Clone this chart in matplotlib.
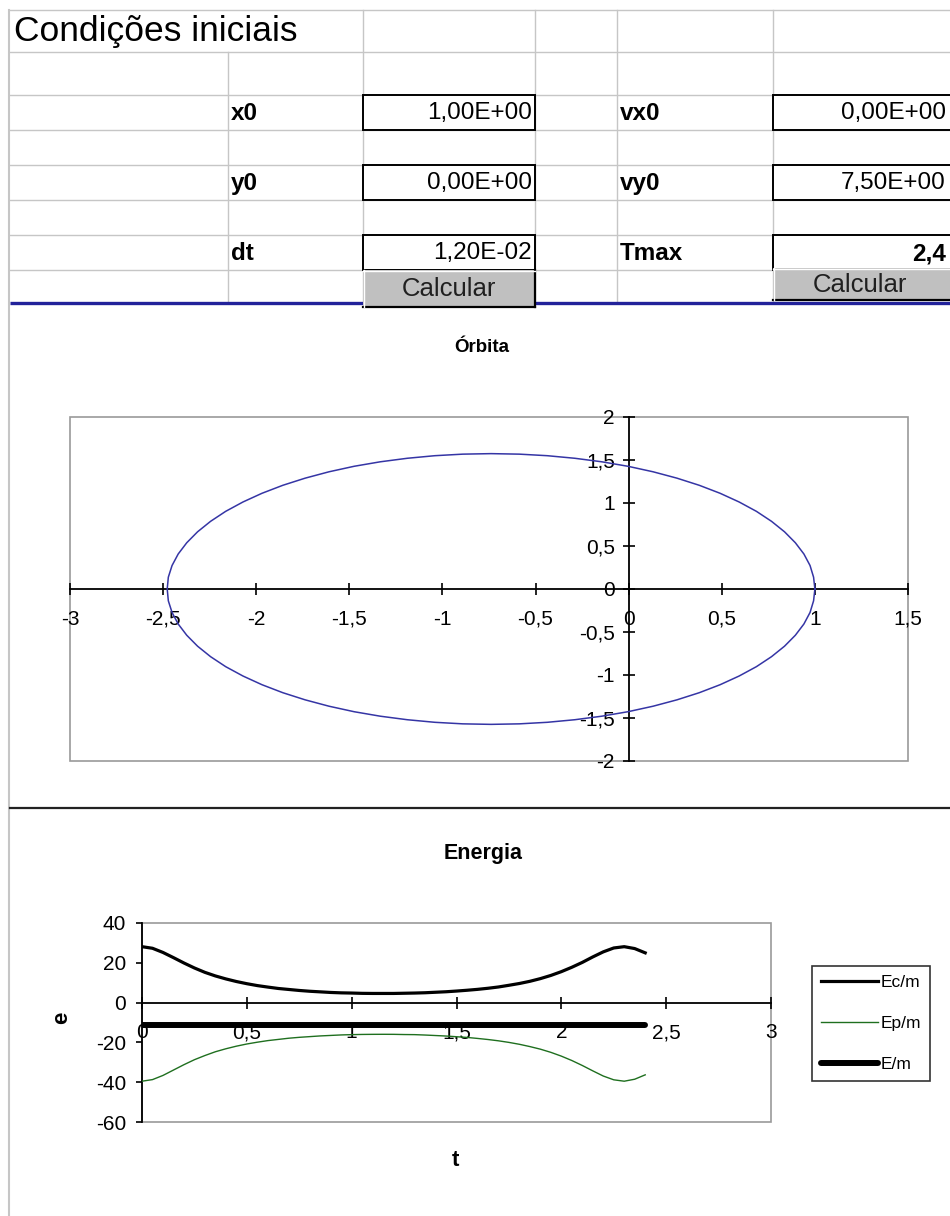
import matplotlib
matplotlib.use("Agg")
import matplotlib.pyplot as plt
from matplotlib.patches import Rectangle
from matplotlib.ticker import FixedLocator, FixedFormatter

W, H = 950, 1216
DPI = 100
plt.rcParams['font.family'] = ['Liberation Sans', 'DejaVu Sans']

# ---------------- data ----------------
sheet_title = "Condições iniciais"
param_labels_left = ["x0", "y0", "dt"]
param_values_left = ["1,00E+00", "0,00E+00", "1,20E-02"]
param_labels_right = ["vx0", "vy0", "Tmax"]
param_values_right = ["0,00E+00", "7,50E+00", "2,4"]
button_text = "Calcular"

orbit_title = "Órbita"
orbit_x = [1.000, 0.993, 0.974, 0.941, 0.895, 0.837, 0.767, 0.686, 0.593,
           0.491, 0.379, 0.259, 0.131, -0.004, -0.144, -0.289, -0.437,
           -0.587, -0.739, -0.891, -1.041, -1.189, -1.334, -1.474, -1.609,
           -1.737, -1.857, -1.969, -2.071, -2.164, -2.245, -2.315, -2.373,
           -2.419, -2.452, -2.472, -2.478,
           -2.472, -2.452, -2.419, -2.373, -2.315, -2.245, -2.164, -2.071,
           -1.969, -1.857, -1.737, -1.609, -1.474, -1.334, -1.189, -1.041,
           -0.891, -0.739, -0.587, -0.437, -0.289, -0.144, -0.004, 0.131,
           0.259, 0.379, 0.491, 0.593, 0.686, 0.767, 0.837, 0.895, 0.941,
           0.974, 0.993, 1.000]
orbit_y = [0.000, 0.137, 0.273, 0.407, 0.538, 0.665, 0.787, 0.903, 1.012,
           1.113, 1.206, 1.289, 1.363, 1.427, 1.479, 1.520, 1.550, 1.568,
           1.574, 1.568, 1.550, 1.520, 1.479, 1.427, 1.363, 1.289, 1.206,
           1.113, 1.012, 0.903, 0.787, 0.665, 0.538, 0.407, 0.273, 0.137,
           0.000,
           -0.137, -0.273, -0.407, -0.538, -0.665, -0.787, -0.903, -1.012,
           -1.113, -1.206, -1.289, -1.363, -1.427, -1.479, -1.520, -1.550,
           -1.568, -1.574, -1.568, -1.550, -1.520, -1.479, -1.427, -1.363,
           -1.289, -1.206, -1.113, -1.012, -0.903, -0.787, -0.665, -0.538,
           -0.407, -0.273, -0.137, 0.000]
orbit_xticks = [-3, -2.5, -2, -1.5, -1, -0.5, 0, 0.5, 1, 1.5]
orbit_xticklabels = ["-3", "-2,5", "-2", "-1,5", "-1", "-0,5", "0", "0,5", "1", "1,5"]
orbit_yticks = [-2, -1.5, -1, -0.5, 0, 0.5, 1, 1.5, 2]
orbit_yticklabels = ["-2", "-1,5", "-1", "-0,5", "0", "0,5", "1", "1,5", "2"]

energy_title = "Energia"
energy_t = [0.0, 0.05, 0.1, 0.15, 0.2, 0.25, 0.3, 0.35, 0.4, 0.45, 0.5,
            0.55, 0.6, 0.65, 0.7, 0.75, 0.8, 0.85, 0.9, 0.95, 1.0, 1.05,
            1.1, 1.15, 1.2, 1.25, 1.3, 1.35, 1.4, 1.45, 1.5, 1.55, 1.6,
            1.65, 1.7, 1.75, 1.8, 1.85, 1.9, 1.95, 2.0, 2.05, 2.1, 2.15,
            2.2, 2.25, 2.3, 2.35, 2.4]
Ec_m = [28.1, 27.3, 25.2, 22.6, 19.9, 17.4, 15.2, 13.4, 11.9, 10.6, 9.5,
        8.55, 7.8, 7.1, 6.6, 6.1, 5.7, 5.4, 5.1, 4.9, 4.8, 4.65,
        4.6, 4.6, 4.6, 4.7, 4.8, 4.95, 5.2, 5.45, 5.8, 6.2, 6.65,
        7.2, 7.85, 8.7, 9.6, 10.7, 12.05, 13.65, 15.55, 17.75, 20.2, 22.95,
        25.5, 27.45, 28.1, 27.15, 25.0]
Ep_m = [-39.5, -38.7, -36.6, -33.9, -31.2, -28.7, -26.6, -24.7, -23.2,
        -21.9, -20.8, -19.9, -19.1, -18.5, -17.9, -17.45, -17.1, -16.75,
        -16.5, -16.25, -16.1, -16.0, -15.95, -15.93, -15.95, -16.05, -16.1,
        -16.3, -16.55, -16.8, -17.15, -17.5, -18.0, -18.55, -19.2, -20.0,
        -20.95, -22.1, -23.4, -25.0, -26.9, -29.1, -31.6, -34.3, -36.9,
        -38.8, -39.5, -38.5, -36.3]
E_m = [-11.4, -11.4, -11.4, -11.4, -11.4, -11.4, -11.4, -11.4, -11.4, -11.4,
       -11.4, -11.4, -11.4, -11.4, -11.4, -11.4, -11.4, -11.4, -11.4, -11.4,
       -11.4, -11.4, -11.4, -11.4, -11.4, -11.4, -11.4, -11.4, -11.4, -11.4,
       -11.4, -11.4, -11.4, -11.4, -11.4, -11.4, -11.4, -11.4, -11.4, -11.4,
       -11.4, -11.4, -11.4, -11.4, -11.4, -11.4, -11.4, -11.4, -11.4]
series_names = ["Ec/m", "Ep/m", "E/m"]
energy_xticks = [0, 0.5, 1, 1.5, 2, 2.5, 3]
energy_xticklabels = ["0", "0,5", "1", "1,5", "2", "2,5", "3"]
energy_yticks = [-60, -40, -20, 0, 20, 40]
energy_yticklabels = ["-60", "-40", "-20", "0", "20", "40"]
energy_xlabel = "t"
energy_ylabel = "e"

# ---------------- helpers ----------------
def px_rect(l, t, r, b):
    return [l / W, 1 - b / H, (r - l) / W, (b - t) / H]

fig = plt.figure(figsize=(W / DPI, H / DPI), dpi=DPI)
fig.patch.set_facecolor('white')

bg = fig.add_axes([0, 0, 1, 1])
bg.set_xlim(0, W)
bg.set_ylim(H, 0)
bg.axis('off')

GRID = '#c6c6c6'
rows = [10, 52, 95, 130, 165, 200, 235, 270]
cols = [363, 535, 617, 773]
for y in rows:
    bg.plot([10, W], [y, y], color=GRID, lw=1.0, zorder=1)
for x in cols:
    bg.plot([x, x], [10, 303], color=GRID, lw=1.0, zorder=1)
bg.plot([228, 228], [52, 303], color=GRID, lw=1.0, zorder=1)
bg.plot([9, 9], [10, H], color=GRID, lw=1.5, zorder=1)

bg.text(14, 32, sheet_title, fontsize=25.5, va='center', ha='left', zorder=3)

box_rows = [(95, 130), (165, 200), (235, 270)]
for i, (t, b) in enumerate(box_rows):
    yc = (t + b) / 2 + 1
    bg.text(231, yc, param_labels_left[i], fontsize=17.5, fontweight='bold',
            va='center', ha='left', zorder=3)
    bg.text(620, yc, param_labels_right[i], fontsize=17.5, fontweight='bold',
            va='center', ha='left', zorder=3)
    bg.text(532, yc, param_values_left[i], fontsize=17.5, va='center',
            ha='right', zorder=3)
    bg.text(946, yc, param_values_right[i], fontsize=17.5, va='center',
            ha='right', zorder=3,
            fontweight='bold' if i == 2 else 'normal')
    bg.add_patch(Rectangle((363, t), 172, b - t, fill=True, fc='white',
                           ec='black', lw=1.4, zorder=2))
    bg.add_patch(Rectangle((773, t), 180, b - t, fill=True, fc='white',
                           ec='black', lw=1.4, zorder=2))

# blue separator line
bg.plot([10, W], [303, 303], color='#22229a', lw=2.4, zorder=2,
        solid_capstyle='butt')

# buttons
for (bx, by, bw, bh) in [(363, 270, 172, 37), (773, 268, 180, 32)]:
    bg.add_patch(Rectangle((bx, by), bw, bh, fc='#c0c0c0', ec='none', zorder=4))
    bg.plot([bx, bx + bw], [by + bh, by + bh], color='black', lw=1.6, zorder=5)
    bg.plot([bx + bw, bx + bw], [by, by + bh], color='black', lw=1.6, zorder=5)
    bg.plot([bx, bx + bw], [by + 1, by + 1], color='white', lw=1.0, zorder=5)
    bg.plot([bx + 1, bx + 1], [by, by + bh], color='white', lw=1.0, zorder=5)
    bg.text(bx + bw / 2 - (3 if bw > 175 else 0), by + bh / 2 + 1, button_text,
            fontsize=18.5, va='center', ha='center', color='#202020', zorder=6)

# chart separator line
bg.plot([10, W], [808, 808], color='#222222', lw=1.6, zorder=2)

# titles / labels
bg.text(482, 347, orbit_title, fontsize=13.5, fontweight='bold', ha='center', va='center')
bg.text(483, 853, energy_title, fontsize=15.5, fontweight='bold', ha='center', va='center')
bg.text(455, 1160, energy_xlabel, fontsize=16, fontweight='bold', ha='center', va='center')
bg.text(62, 1018, energy_ylabel, fontsize=16, fontweight='bold', ha='center',
        va='center', rotation=90)

# ---------------- orbit chart ----------------
ax1 = fig.add_axes(px_rect(70, 417, 908, 761))
ax1.patch.set_alpha(0)
ax1.plot(orbit_x, orbit_y, color='#3535a5', lw=1.1, zorder=3)
ax1.set_xlim(-3, 1.5)
ax1.set_ylim(-2, 2)
for s in ['top', 'right']:
    ax1.spines[s].set_visible(False)
ax1.spines['left'].set_position(('data', 0))
ax1.spines['bottom'].set_position(('data', 0))
for s in ['left', 'bottom']:
    ax1.spines[s].set_linewidth(1.3)
ax1.add_patch(Rectangle((0, 0), 1, 1, transform=ax1.transAxes, fill=False,
                        ec='#9a9a9a', lw=1.2, zorder=0, clip_on=False))
ax1.xaxis.set_major_locator(FixedLocator(orbit_xticks))
ax1.xaxis.set_major_formatter(FixedFormatter(orbit_xticklabels))
ax1.yaxis.set_major_locator(FixedLocator(orbit_yticks))
ax1.yaxis.set_major_formatter(FixedFormatter(orbit_yticklabels))
ax1.tick_params(axis='x', direction='inout', length=8, width=1.2, pad=11,
                labelsize=15)
ax1.tick_params(axis='y', direction='inout', length=8, width=1.2, pad=6,
                labelsize=15)

# ---------------- energy chart ----------------
ax2 = fig.add_axes(px_rect(142, 923, 771, 1122))
ax2.patch.set_alpha(0)
l1, = ax2.plot(energy_t, Ec_m, color='black', lw=2.3, label=series_names[0],
               zorder=3)
l2, = ax2.plot(energy_t, Ep_m, color='#1f6f1f', lw=1.0, label=series_names[1],
               zorder=3)
l3, = ax2.plot(energy_t, E_m, color='black', lw=4.3, label=series_names[2],
               zorder=3, solid_capstyle='round')
ax2.set_xlim(0, 3)
ax2.set_ylim(-60, 40)
for s in ['top', 'right']:
    ax2.spines[s].set_visible(False)
ax2.spines['bottom'].set_position(('data', 0))
for s in ['left', 'bottom']:
    ax2.spines[s].set_linewidth(1.3)
ax2.add_patch(Rectangle((0, 0), 1, 1, transform=ax2.transAxes, fill=False,
                        ec='#9a9a9a', lw=1.2, zorder=0, clip_on=False))
ax2.xaxis.set_major_locator(FixedLocator(energy_xticks))
ax2.xaxis.set_major_formatter(FixedFormatter(energy_xticklabels))
ax2.yaxis.set_major_locator(FixedLocator(energy_yticks))
ax2.yaxis.set_major_formatter(FixedFormatter(energy_yticklabels))
ax2.tick_params(axis='x', direction='inout', length=8, width=1.2, pad=11,
                labelsize=15)
ax2.tick_params(axis='y', direction='out', length=4.5, width=1.2, pad=7,
                labelsize=15)

leg = ax2.legend(handles=[l1, l2, l3], loc='upper left',
                 bbox_to_anchor=(812 / W, 1 - 966 / H),
                 bbox_transform=fig.transFigure, borderaxespad=0,
                 fontsize=12.5, frameon=True, fancybox=False,
                 handlelength=3.3, handletextpad=0.15, labelspacing=1.5,
                 borderpad=0.5)
leg.get_frame().set_edgecolor('black')
leg.get_frame().set_linewidth(1.2)

fig.savefig('out.png', dpi=DPI, facecolor='white')
